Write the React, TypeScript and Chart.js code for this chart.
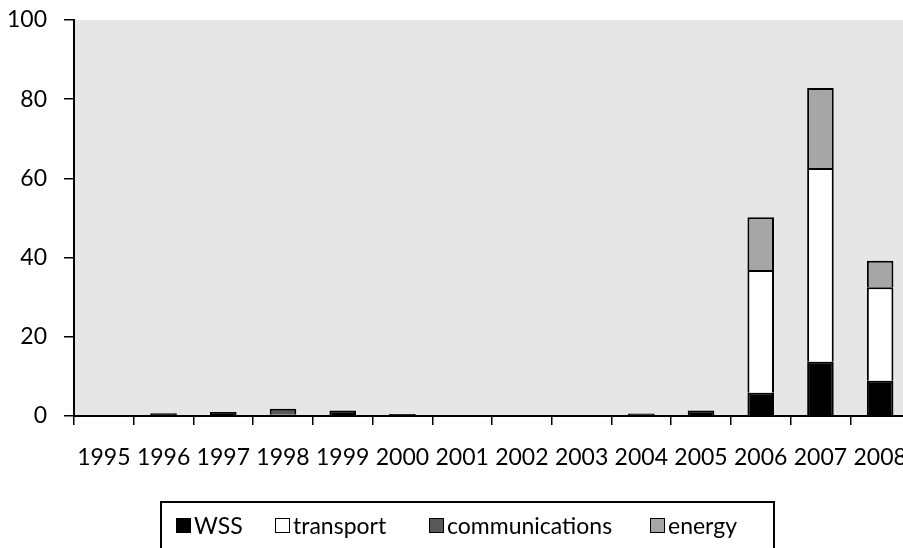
import React, { useEffect, useRef } from "react";
import { Chart, registerables } from "chart.js";

Chart.register(...registerables);

const years = ["1995", "1996", "1997", "1998", "1999", "2000", "2001", "2002", "2003", "2004", "2005", "2006", "2007", "2008"];
const wss = [null, 0.7, 1.0, 0.3, 1.4, 0.5, 0.2, 0.2, 0.2, 0.6, 1.4, 5.9, 13.7, 8.9];
const transport = [null, null, null, null, null, null, null, null, null, null, null, 31.0, 48.9, 23.6];
const communications = [null, null, null, 1.5, null, null, null, null, null, null, null, null, null, null];
const energy = [null, null, null, null, null, null, null, null, null, null, null, 13.3, 20.2, 6.7];
const yTicks = [0, 20, 40, 60, 80, 100];

const seriesNames = ["WSS", "transport", "communications", "energy"];
const seriesColors = ["#000000", "#ffffff", "#595959", "#a6a6a6"];

const FONT = "Lato, 'Open Sans', sans-serif";

const bgPlugin = {
  id: "plotBg",
  beforeDraw(chart: any) {
    const { ctx, chartArea } = chart;
    ctx.save();
    ctx.fillStyle = "#e6e6e6";
    ctx.fillRect(chartArea.left, chartArea.top, chartArea.right - chartArea.left, chartArea.bottom - chartArea.top);
    ctx.restore();
  },
};

function zeroPad(scale: any) {
  scale.paddingTop = 0;
  scale.paddingBottom = 0;
  scale.paddingLeft = 0;
  scale.paddingRight = 0;
}

export default function App() {
  const ref = useRef<HTMLCanvasElement | null>(null);

  useEffect(() => {
    if (!ref.current) return;
    const seriesData = [wss, transport, communications, energy];
    const chart = new Chart(ref.current, {
      type: "bar",
      data: {
        labels: years,
        datasets: seriesNames.map((name, i) => ({
          label: name,
          data: seriesData[i] as any,
          backgroundColor: seriesColors[i],
          borderColor: "#000000",
          borderWidth: 2,
          borderSkipped: "bottom",
          categoryPercentage: 1,
          barPercentage: 0.445,
        })),
      },
      options: {
        animation: false,
        responsive: false,
        devicePixelRatio: 1,
        layout: { padding: { top: 20, right: 2, left: 0, bottom: 0 } },
        plugins: {
          legend: { display: false },
          tooltip: { enabled: false },
        },
        scales: {
          x: {
            stacked: true,
            grid: {
              offset: true,
              drawOnChartArea: false,
              drawTicks: true,
              tickLength: 9,
              color: "#000000",
              lineWidth: 1.5,
            },
            border: { display: true, color: "#000000", width: 2 },
            ticks: {
              color: "#000000",
              font: { family: FONT, size: 23 },
              padding: 19,
              maxRotation: 0,
              autoSkip: false,
            },
            afterFit(scale: any) {
              scale.height = 132;
              zeroPad(scale);
            },
          },
          y: {
            stacked: true,
            min: 0,
            max: 100,
            afterBuildTicks(scale: any) {
              scale.ticks = yTicks.map((v) => ({ value: v }));
            },
            grid: {
              drawOnChartArea: false,
              drawTicks: true,
              tickLength: 10,
              color: "#000000",
              lineWidth: 1.5,
            },
            border: { display: true, color: "#000000", width: 2 },
            ticks: {
              color: "#000000",
              font: { family: FONT, size: 23 },
              padding: 17,
            },
            afterFit(scale: any) {
              scale.width = 74;
              zeroPad(scale);
            },
          },
        },
      },
      plugins: [bgPlugin],
    });
    return () => chart.destroy();
  }, []);

  const legendLefts = [14, 113, 267, 488];

  return (
    <div style={{ position: "absolute", left: 0, top: 0, width: 903, height: 548, overflow: "hidden", background: "#fff" }}>
      <canvas ref={ref} width={912} height={548} style={{ display: "block", width: 912, height: 548 }} />
      <div
        style={{
          position: "absolute",
          left: 160,
          top: 501,
          width: 615,
          height: 70,
          border: "2px solid #000",
          boxSizing: "border-box",
          fontFamily: FONT,
          fontSize: 23,
          color: "#000",
        }}
      >
        {seriesNames.map((name, i) => (
          <div
            key={name}
            style={{
              position: "absolute",
              left: legendLefts[i],
              top: 8,
              display: "flex",
              alignItems: "center",
              whiteSpace: "nowrap",
              lineHeight: "28px",
            }}
          >
            <span
              style={{
                display: "inline-block",
                width: 13,
                height: 13,
                background: seriesColors[i],
                border: "1px solid #000",
                marginRight: 3,
              }}
            />
            <span>{name}</span>
          </div>
        ))}
      </div>
    </div>
  );
}
